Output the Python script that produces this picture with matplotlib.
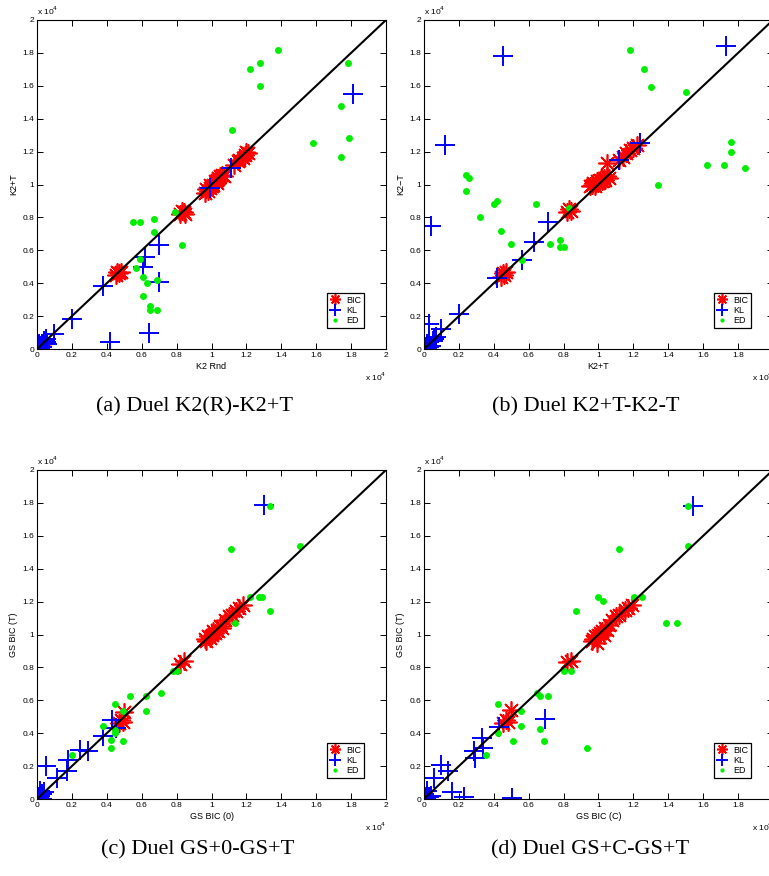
import numpy as np
import matplotlib
matplotlib.use('Agg')
import matplotlib.pyplot as plt

# values in units of 10^4
# (a) K2 Rnd vs K2+T
a_bic_x = [0.02, 0.03, 0.45, 0.46, 0.47, 0.48, 0.82, 0.83, 0.84, 0.85, 0.96, 0.97, 0.98, 0.99, 1.00, 1.01,
           1.02, 1.03, 1.04, 1.05, 1.06, 1.07, 1.03, 0.99, 1.13, 1.15, 1.16, 1.18, 1.19, 1.20, 1.21]
a_bic_y = [0.02, 0.03, 0.45, 0.47, 0.46, 0.47, 0.82, 0.84, 0.83, 0.82, 0.95, 0.97, 0.96, 0.98, 0.99, 1.00,
           1.02, 1.03, 1.04, 1.05, 1.06, 1.05, 1.01, 1.00, 1.12, 1.14, 1.15, 1.16, 1.18, 1.20, 1.19]
a_kl_x = [0.99, 1.11, 0.38, 0.20, 0.42, 0.64, 0.62, 0.61, 0.70, 0.70, 1.81,
          0.00, 0.01, 0.02, 0.03, 0.04, 0.05, 0.06, 0.10, 0.02, 0.00, 0.03, 0.05, 0.01]
a_kl_y = [0.98, 1.10, 0.38, 0.18, 0.04, 0.10, 0.56, 0.50, 0.63, 0.41, 1.55,
          0.00, 0.01, 0.02, 0.03, 0.05, 0.06, 0.03, 0.09, 0.00, 0.02, 0.01, 0.04, 0.03]
a_ed_x = [1.38, 1.22, 1.28, 1.28, 1.78, 1.74, 1.58, 1.79, 1.74, 1.12, 0.79, 0.83, 0.55, 0.59, 0.67,
          0.67, 0.59, 0.57, 0.61, 0.63, 0.69, 0.61, 0.65, 0.65, 0.69]
a_ed_y = [1.82, 1.70, 1.74, 1.60, 1.74, 1.48, 1.25, 1.28, 1.17, 1.33, 0.83, 0.63, 0.77, 0.77, 0.79,
          0.71, 0.55, 0.49, 0.44, 0.40, 0.42, 0.32, 0.26, 0.24, 0.24]

# (b) K2+T vs K2-T
b_bic_x = [0.02, 0.44, 0.45, 0.46, 0.47, 0.82, 0.83, 0.84, 0.95, 0.96, 0.97, 0.98, 0.99, 1.00, 1.01, 1.02,
           1.03, 1.04, 1.05, 1.06, 1.05, 1.12, 1.14, 1.16, 1.18, 1.20, 1.22]
b_bic_y = [0.02, 0.44, 0.46, 0.45, 0.47, 0.83, 0.85, 0.84, 0.99, 1.00, 1.01, 0.99, 1.02, 1.01, 1.03, 1.02,
           1.04, 1.03, 1.05, 1.04, 1.13, 1.15, 1.17, 1.19, 1.21, 1.22, 1.24]
b_kl_x = [0.45, 0.12, 0.04, 0.03, 1.73, 1.24, 1.12, 0.71, 0.63, 0.56, 0.42, 0.20, 0.10,
          0.00, 0.01, 0.02, 0.03, 0.05, 0.06, 0.04, 0.00, 0.02, 0.07, 0.03]
b_kl_y = [1.78, 1.24, 0.75, 0.15, 1.84, 1.25, 1.15, 0.77, 0.65, 0.54, 0.43, 0.21, 0.12,
          0.00, 0.01, 0.03, 0.04, 0.05, 0.06, 0.02, 0.02, 0.00, 0.07, 0.01]
b_ed_x = [1.18, 1.26, 1.30, 1.50, 1.76, 1.76, 1.62, 1.72, 1.84, 1.34, 0.24, 0.26, 0.24, 0.32, 0.40,
          0.42, 0.64, 0.44, 0.50, 0.72, 0.78, 0.78, 0.80, 0.56, 0.83]
b_ed_y = [1.82, 1.70, 1.59, 1.56, 1.26, 1.20, 1.12, 1.12, 1.10, 1.00, 1.06, 1.04, 0.96, 0.80, 0.88,
          0.90, 0.88, 0.72, 0.64, 0.64, 0.66, 0.62, 0.62, 0.54, 0.86]

# (c) GS BIC (0) vs GS BIC (T)
c_bic_x = [0.02, 0.47, 0.48, 0.50, 0.49, 0.82, 0.84, 0.96, 0.97, 0.98, 0.99, 1.00, 1.01, 1.02, 1.03, 1.04,
           1.05, 1.06, 1.08, 1.10, 1.12, 1.14, 1.16, 1.18]
c_bic_y = [0.02, 0.46, 0.48, 0.53, 0.47, 0.82, 0.84, 0.97, 0.96, 0.99, 0.98, 1.00, 1.02, 1.01, 1.03, 1.02,
           1.05, 1.04, 1.09, 1.11, 1.12, 1.14, 1.16, 1.18]
c_kl_x = [1.30, 0.05, 0.18, 0.17, 0.115, 0.29, 0.245, 0.38, 0.43, 0.45,
          0.00, 0.01, 0.02, 0.03, 0.04, 0.02, 0.00, 0.03]
c_kl_y = [1.785, 0.20, 0.24, 0.17, 0.125, 0.29, 0.30, 0.38, 0.48, 0.43,
          0.00, 0.01, 0.02, 0.03, 0.04, 0.05, 0.02, 0.00]
c_ed_x = [1.335, 1.51, 1.11, 1.335, 1.27, 1.29, 1.22, 1.135, 0.78, 0.80, 0.535, 0.625, 0.71, 0.625,
          0.445, 0.49, 0.38, 0.445, 0.445, 0.425, 0.49, 0.425, 0.20]
c_ed_y = [1.78, 1.54, 1.52, 1.14, 1.225, 1.225, 1.225, 1.07, 0.78, 0.78, 0.625, 0.625, 0.645, 0.535,
          0.58, 0.535, 0.445, 0.42, 0.40, 0.36, 0.355, 0.31, 0.27]

# (d) GS BIC (C) vs GS BIC (T)
d_bic_x = [0.02, 0.45, 0.47, 0.48, 0.50, 0.82, 0.84, 0.96, 0.97, 0.98, 0.99, 1.00, 1.01, 1.02, 1.03, 1.04,
           1.05, 1.06, 1.08, 1.10, 1.12, 1.15, 1.17, 1.19]
d_bic_y = [0.02, 0.46, 0.48, 0.47, 0.54, 0.83, 0.84, 0.96, 0.97, 0.99, 0.95, 1.00, 1.01, 1.02, 1.00, 1.04,
           1.03, 1.06, 1.09, 1.11, 1.12, 1.15, 1.16, 1.18]
d_kl_x = [1.54, 0.695, 0.43, 0.33, 0.34, 0.285, 0.29, 0.095, 0.14, 0.06, 0.16, 0.23, 0.505,
          0.00, 0.01, 0.02, 0.00, 0.03, 0.02, 0.01, 0.04]
d_kl_y = [1.78, 0.485, 0.435, 0.37, 0.31, 0.29, 0.25, 0.205, 0.17, 0.13, 0.045, 0.015, 0.005,
          0.00, 0.01, 0.02, 0.03, 0.01, 0.05, 0.00, 0.02]
d_ed_x = [1.515, 1.515, 1.115, 0.87, 1.00, 1.025, 1.205, 1.25, 1.385, 1.45, 0.805, 0.845, 0.645, 0.665,
          0.71, 0.425, 0.555, 0.555, 0.665, 0.425, 0.51, 0.69, 0.935, 0.355]
d_ed_y = [1.78, 1.54, 1.52, 1.14, 1.225, 1.205, 1.225, 1.225, 1.07, 1.07, 0.78, 0.78, 0.645, 0.625,
          0.625, 0.58, 0.535, 0.445, 0.425, 0.40, 0.355, 0.355, 0.31, 0.27]

tick_vals = [0, 0.2, 0.4, 0.6, 0.8, 1, 1.2, 1.4, 1.6, 1.8, 2]
tick_labels = ['0', '0.2', '0.4', '0.6', '0.8', '1', '1.2', '1.4', '1.6', '1.8', '2']

plt.rcParams['font.family'] = ['Liberation Sans', 'DejaVu Sans']


def draw_panel(ax, bic, kl, ed, xlabel, ylabel):
    ax.plot(bic[0], bic[1], linestyle='none', marker=(8, 2, 0), color='red',
            markersize=13, markeredgewidth=1.2, label='BIC')
    ax.plot(kl[0], kl[1], linestyle='none', marker='+', color='blue',
            markersize=14, markeredgewidth=1.4, label='KL')
    ax.plot(ed[0], ed[1], linestyle='none', marker='o', color='#00ee00',
            markeredgecolor='none', markersize=5, label='ED')
    ax.plot([0, 2], [0, 2], color='black', linewidth=1.5, zorder=5)

    ax.set_xlim(0, 2)
    ax.set_ylim(0, 2)
    ax.set_xticks(tick_vals)
    ax.set_xticklabels(tick_labels)
    ax.set_yticks(tick_vals)
    ax.set_yticklabels(tick_labels)
    ax.tick_params(direction='in', length=4, width=0.7, labelsize=6, top=True, right=True, pad=2)
    for s in ax.spines.values():
        s.set_linewidth(0.8)
    ax.set_xlabel(xlabel, fontsize=6.5, labelpad=2)
    ax.set_ylabel(ylabel, fontsize=6.5, labelpad=3)
    ax.text(0.0, 1.008, 'x 10$^4$', transform=ax.transAxes, fontsize=6, ha='left', va='bottom')
    ax.text(1.0, -0.065, 'x 10$^4$', transform=ax.transAxes, fontsize=6, ha='right', va='top')

    leg = ax.legend(loc='lower right', bbox_to_anchor=(0.95, 0.05), fontsize=6.5,
                    fancybox=False, framealpha=1, edgecolor='black', handlelength=1.2,
                    handletextpad=0.6, borderpad=0.3, labelspacing=0.15, markerscale=0.6)
    leg.get_frame().set_linewidth(0.9)


fig = plt.figure(figsize=(7.69, 8.76), dpi=100)
w = 349 / 769
h = 329 / 876
ax_a = fig.add_axes([37 / 769, 1 - 349 / 876, w, h])
ax_b = fig.add_axes([424 / 769, 1 - 349 / 876, w, h])
ax_c = fig.add_axes([37 / 769, 1 - 799 / 876, w, h])
ax_d = fig.add_axes([424 / 769, 1 - 799 / 876, w, h])

draw_panel(ax_a, (a_bic_x, a_bic_y), (a_kl_x, a_kl_y), (a_ed_x, a_ed_y), 'K2 Rnd', 'K2+T')
draw_panel(ax_b, (b_bic_x, b_bic_y), (b_kl_x, b_kl_y), (b_ed_x, b_ed_y), 'K2+T', 'K2\u2212T')
draw_panel(ax_c, (c_bic_x, c_bic_y), (c_kl_x, c_kl_y), (c_ed_x, c_ed_y), 'GS BIC (0)', 'GS BIC (T)')
draw_panel(ax_d, (d_bic_x, d_bic_y), (d_kl_x, d_kl_y), (d_ed_x, d_ed_y), 'GS BIC (C)', 'GS BIC (T)')

cap_font = dict(family='Liberation Serif', fontsize=16, ha='center', va='center')
fig.text(194 / 769, 1 - 407 / 876, '(a) Duel K2(R)-K2+T', **cap_font)
fig.text(586 / 769, 1 - 407 / 876, '(b) Duel K2+T-K2-T', **cap_font)
fig.text(198 / 769, 1 - 850 / 876, '(c) Duel GS+0-GS+T', **cap_font)
fig.text(590 / 769, 1 - 850 / 876, '(d) Duel GS+C-GS+T', **cap_font)

fig.savefig('out.png', dpi=100)
